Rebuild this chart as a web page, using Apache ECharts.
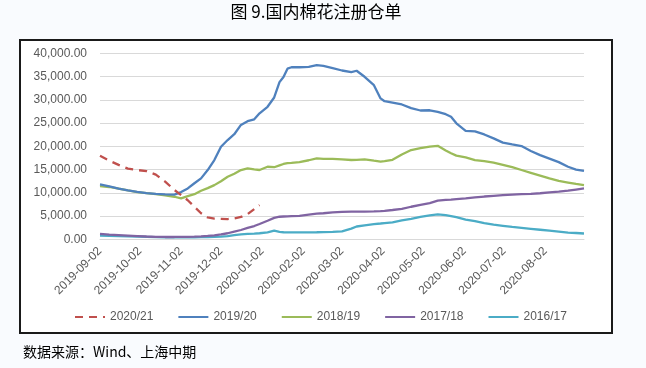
<!DOCTYPE html>
<html><head><meta charset="utf-8">
<script src="https://cdn.jsdelivr.net/npm/echarts@6/dist/echarts.min.js"></script>
<style>html,body{margin:0;padding:0;background:#f9fbfe;}#c{width:646px;height:368px;}</style>
</head><body><div id="c"></div>
<script>
const titleText = '图 9.国内棉花注册仓单';
const sourceText = '数据来源：Wind、上海中期';
const seriesNames = ['2020/21', '2019/20', '2018/19', '2017/18', '2016/17'];
const seriesColors = ['#C0504D', '#4F81BD', '#9BBB59', '#8064A2', '#4BACC6'];
const axisStart = '2019-09-02';
const axisEnd = '2020-08-31';
const tickLabels = ['2019-09-02','2019-10-02','2019-11-02','2019-12-02','2020-01-02','2020-02-02','2020-03-02','2020-04-02','2020-05-02','2020-06-02','2020-07-02','2020-08-02'];
const yTicks = [0, 5000, 10000, 15000, 20000, 25000, 30000, 35000, 40000];

const dates = ['2019-09-02','2019-09-09','2019-09-16','2019-09-23','2019-09-30','2019-10-07','2019-10-14','2019-10-21','2019-10-28',
'2019-11-02','2019-11-07','2019-11-12','2019-11-17','2019-11-22','2019-11-27',
'2019-12-02','2019-12-07','2019-12-12','2019-12-17','2019-12-22','2019-12-27','2019-12-31',
'2020-01-06','2020-01-11','2020-01-15','2020-01-18','2020-01-21','2020-01-24','2020-01-30',
'2020-02-06','2020-02-12','2020-02-17','2020-02-24',
'2020-03-02','2020-03-09','2020-03-13','2020-03-19','2020-03-26','2020-03-31',
'2020-04-03','2020-04-09','2020-04-16','2020-04-23','2020-04-30',
'2020-05-07','2020-05-13','2020-05-19','2020-05-23','2020-05-27',
'2020-06-03','2020-06-10','2020-06-17','2020-06-24',
'2020-07-01','2020-07-08','2020-07-15','2020-07-22','2020-07-29',
'2020-08-05','2020-08-12','2020-08-19','2020-08-25','2020-08-31'];

const s2020_21 = [17950,16900,16000,15200,14900,14650,13900,12400,10600,
9500,8400,7000,5600,4700,4450,
4400,4350,4500,4800,5400,6500,7350];

const s2019_20 = [11800,11400,10900,10500,10200,9950,9750,9650,9600,
10150,10950,12050,13100,14900,17050,
19900,21350,22600,24600,25400,25800,27100,
28500,30500,33800,34900,36700,37000,37000,
37100,37450,37300,36800,
36300,35950,36250,34950,33150,30300,
29700,29400,29000,28200,27700,
27750,27400,26900,26350,24950,
23300,23200,22550,21700,
20800,20400,20050,19000,18100,
17350,16600,15600,15000,14700];

const s2018_19 = [11450,11250,10900,10500,10150,9950,9700,9450,9150,
8800,9300,9700,10450,11000,11650,
12500,13450,14100,14900,15250,15050,14900,
15600,15500,15900,16200,16400,16450,16600,
17000,17400,17300,17300,
17200,17050,17100,17200,16900,16700,
16800,17100,18250,19200,19600,
19950,20100,19100,18500,18000,
17600,17050,16800,16500,
16000,15500,14900,14300,13700,
13100,12550,12200,11900,11650];

const s2017_18 = [1150,1000,900,800,700,600,520,500,500,
520,540,560,620,720,850,
1050,1300,1650,2000,2450,2850,3300,
4000,4600,4850,4900,4950,5000,5050,
5300,5500,5600,5800,
5900,5950,5950,5950,6000,6050,
6100,6300,6550,7000,7400,
7800,8300,8500,8550,8650,
8800,9000,9200,9350,
9500,9600,9700,9750,9900,
10100,10250,10450,10700,10950];

const s2016_17 = [800,750,680,630,580,520,460,430,430,
430,430,430,450,480,520,
570,700,900,1050,1150,1200,1300,
1500,1850,1600,1520,1500,1500,1500,
1500,1520,1550,1600,
1700,2300,2750,3000,3250,3400,
3500,3650,4050,4400,4800,
5150,5350,5200,5000,4750,
4250,3900,3500,3150,
2900,2650,2450,2250,2050,
1850,1650,1450,1350,1250];

const seriesValues = [s2020_21, s2019_20, s2018_19, s2017_18, s2016_17];

// all calendar days of the axis
const categories = [];
{
  const t0 = Date.parse(axisStart + 'T00:00:00Z');
  const t1 = Date.parse(axisEnd + 'T00:00:00Z');
  for (let t = t0; t <= t1; t += 86400000) categories.push(new Date(t).toISOString().slice(0, 10));
}

const chart = echarts.init(document.getElementById('c'), null, {renderer: 'canvas'});
const fontFam = 'Liberation Sans, Arial, sans-serif';
chart.setOption({
  backgroundColor: '#f9fbfe',
  animation: false,
  graphic: [
    {type: 'rect', shape: {x: 20, y: 40, width: 592, height: 293}, style: {fill: '#ffffff', stroke: '#1a1a1a', lineWidth: 2}, z: -10},
    {type: 'text', x: 316, y: 12, style: {text: titleText, fill: '#000', font: '17px "Noto Sans CJK SC"', textAlign: 'center', textVerticalAlign: 'middle'}},
    {type: 'text', x: 23, y: 352, style: {text: sourceText, fill: '#000', font: '14px "Noto Sans CJK SC"', textAlign: 'left', textVerticalAlign: 'middle'}}
  ],
  grid: {left: 100, right: 62, top: 53.3, bottom: 128.7, containLabel: false},
  legend: {
    left: 69, top: 306, itemWidth: 30, itemHeight: 14, itemGap: 24,
    itemStyle: {opacity: 0},
    textStyle: {color: '#595959', fontSize: 12, fontFamily: fontFam},
    data: seriesNames
  },
  xAxis: {
    type: 'category', data: categories, boundaryGap: false,
    axisLine: {show: true, lineStyle: {color: '#d9d9d9', width: 1}},
    axisTick: {show: false},
    splitLine: {show: false},
    axisLabel: {
      interval: (idx, val) => tickLabels.includes(val),
      rotate: 45, margin: 10, color: '#595959', fontSize: 12, fontFamily: fontFam
    }
  },
  yAxis: {
    type: 'value', min: yTicks[0], max: yTicks[yTicks.length - 1], interval: yTicks[1] - yTicks[0],
    axisLine: {show: false}, axisTick: {show: false},
    splitLine: {lineStyle: {color: '#d9d9d9', width: 1}},
    axisLabel: {
      margin: 13, color: '#595959', fontSize: 12, fontFamily: fontFam,
      formatter: v => v.toLocaleString('en-US', {minimumFractionDigits: 2, maximumFractionDigits: 2})
    }
  },
  series: seriesNames.map((name, k) => ({
    name, type: 'line', symbol: 'none', smooth: false,
    data: seriesValues[k].map((v, i) => [dates[i], v]),
    lineStyle: {color: seriesColors[k], width: 2.3, type: k === 0 ? [8, 6] : 'solid'},
    itemStyle: {color: seriesColors[k]},
    z: 10 - k
  }))
});
</script></body></html>
